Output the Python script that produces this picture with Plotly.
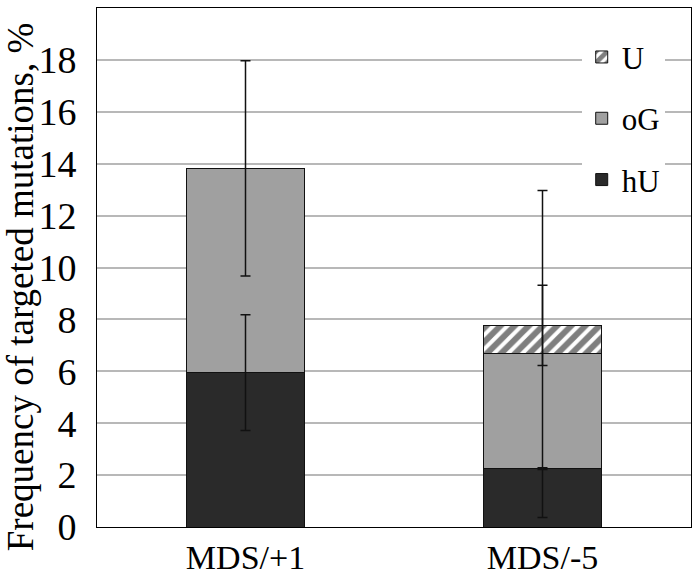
import numpy as np
import plotly.graph_objects as go

categories = ["MDS/+1", "MDS/-5"]
hU_vals = [5.95, 2.25]
oG_vals = [7.87, 4.42]
U_vals = [0.0, 1.1]
hU_err = [2.23, 0.03]
oG_err = [4.15, 6.3]
U_err = [0.0, 1.55]
y_title = "Frequency of targeted mutations, %"

FONT = "Liberation Serif, Times New Roman, serif"

fig = go.Figure()
line = dict(color="#111111", width=1)
fig.add_trace(go.Bar(name="hU", x=categories, y=hU_vals, legendrank=3,
                     marker=dict(color="#2a2a2a", line=line), legendgroup="c"))
fig.add_trace(go.Bar(name="oG", x=categories, y=oG_vals, legendrank=2,
                     marker=dict(color="#a0a0a0", line=line), legendgroup="b"))
fig.add_trace(go.Bar(name="U", x=categories, y=U_vals, legendrank=1,
                     marker=dict(color="white", line=line,
                                 pattern=dict(shape="/", fgcolor="black", bgcolor="white",
                                              size=10, solidity=0.6)),
                     legendgroup="a"))

# error bars drawn on top of all bars, at stacked tops
tops_hU = np.array(hU_vals)
tops_oG = tops_hU + np.array(oG_vals)
tops_U = tops_oG + np.array(U_vals)
err_color = "#111111"
for tops, errs, mask in [(tops_hU, hU_err, [True, True]),
                         (tops_oG, oG_err, [True, True]),
                         (tops_U, U_err, [False, True])]:
    xs = [c for c, m in zip(categories, mask) if m]
    ys = [t for t, m in zip(tops, mask) if m]
    es = [e for e, m in zip(errs, mask) if m]
    fig.add_trace(go.Scatter(x=xs, y=ys, mode="markers", marker=dict(opacity=0, size=1),
                             error_y=dict(type="data", array=es, visible=True,
                                          color=err_color, thickness=1.5, width=5),
                             showlegend=False, hoverinfo="skip"))

fig.update_layout(
    barmode="stack",
    bargap=0.6,
    width=700, height=576,
    margin=dict(l=97, r=9, t=8, b=49),
    paper_bgcolor="white", plot_bgcolor="white",
    font=dict(family=FONT, color="black"),
    showlegend=True,
    legend=dict(traceorder="grouped", tracegroupgap=18,
                x=0.816, xanchor="left", y=0.957, yanchor="top",
                bgcolor="white", font=dict(size=31, family=FONT),
                itemclick=False),
)
fig.add_annotation(text=y_title, textangle=-90, xref="paper", yref="paper",
                   x=-(97 - 20) / 594, y=0.462, xanchor="center", yanchor="middle",
                   showarrow=False, font=dict(size=37, family=FONT, color="black"))
fig.update_xaxes(showline=True, linecolor="black", linewidth=1, mirror=True,
                 tickfont=dict(size=34, family=FONT), showgrid=False, ticks="",
                 automargin=False)
fig.update_yaxes(range=[0, 20], tickvals=list(range(0, 20, 2)),
                 showline=True, linecolor="black", linewidth=1, mirror=True,
                 showgrid=True, gridcolor="#b8b8b8", gridwidth=1.5,
                 tickfont=dict(size=38, family=FONT), ticks="", ticklabelstandoff=12,
                 zeroline=False, automargin=False)

fig.write_html("out.html", config={"displayModeBar": False},
               post_script="document.body.style.margin='0';document.body.style.padding='0';")
